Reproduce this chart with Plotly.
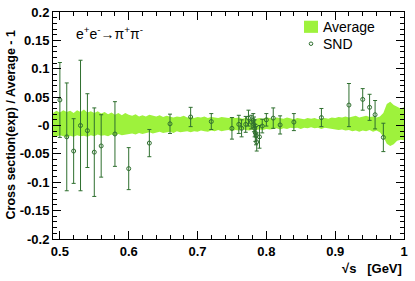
import plotly.graph_objects as go

# ---- data -------------------------------------------------------------
band_x = [0.490, 0.495, 0.500, 0.505, 0.510, 0.515, 0.520, 0.525, 0.530, 0.535,
          0.540, 0.545, 0.550, 0.555, 0.560, 0.565, 0.570, 0.575, 0.580, 0.585,
          0.590, 0.595, 0.600, 0.605, 0.610, 0.615, 0.620, 0.625, 0.630, 0.635,
          0.640, 0.645, 0.650, 0.655, 0.660, 0.665, 0.670, 0.675, 0.680, 0.685,
          0.690, 0.695, 0.700, 0.705, 0.710, 0.715, 0.720, 0.725, 0.730, 0.735,
          0.740, 0.745, 0.750, 0.755, 0.760, 0.765, 0.770, 0.775, 0.780, 0.785,
          0.790, 0.795, 0.800, 0.805, 0.810, 0.815, 0.820, 0.825, 0.830, 0.835,
          0.840, 0.845, 0.850, 0.855, 0.860, 0.865, 0.870, 0.875, 0.880, 0.885,
          0.890, 0.895, 0.900, 0.905, 0.910, 0.915, 0.920, 0.925, 0.930, 0.935,
          0.940, 0.945, 0.950, 0.955, 0.960, 0.965, 0.970, 0.975, 0.980, 0.985,
          0.990, 0.995, 1.000]
band_hi = [0.022, 0.026, 0.023, 0.027, 0.024, 0.026, 0.022, 0.027, 0.024, 0.028,
           0.023, 0.025, 0.022, 0.025, 0.021, 0.024, 0.020, 0.023, 0.019, 0.022,
           0.018, 0.022, 0.019, 0.017, 0.020, 0.016, 0.018, 0.016, 0.019, 0.017,
           0.016, 0.018, 0.015, 0.017, 0.016, 0.014, 0.016, 0.015, 0.017, 0.014,
           0.015, 0.013, 0.015, 0.014, 0.016, 0.013, 0.015, 0.014, 0.013, 0.015,
           0.014, 0.013, 0.015, 0.013, 0.014, 0.012, 0.013, 0.012, 0.011, 0.012,
           0.013, 0.012, 0.014, 0.013, 0.012, 0.014, 0.013, 0.012, 0.014, 0.012,
           0.011, 0.013, 0.012, 0.011, 0.013, 0.012, 0.013, 0.011, 0.012, 0.013,
           0.012, 0.014, 0.013, 0.015, 0.014, 0.016, 0.014, 0.015, 0.017, 0.014,
           0.015, 0.017, 0.015, 0.016, 0.014, 0.016, 0.022, 0.038, 0.042, 0.036,
           0.033, 0.030, 0.032]
band_lo = [-0.018, -0.020, -0.017, -0.019, -0.021, -0.018, -0.020, -0.017, -0.019, -0.018,
           -0.020, -0.017, -0.019, -0.016, -0.018, -0.017, -0.019, -0.016, -0.018, -0.015,
           -0.017, -0.016, -0.015, -0.014, -0.016, -0.013, -0.015, -0.014, -0.012, -0.014,
           -0.013, -0.011, -0.013, -0.012, -0.011, -0.013, -0.010, -0.012, -0.011, -0.010,
           -0.012, -0.010, -0.011, -0.009, -0.010, -0.011, -0.009, -0.010, -0.008, -0.010,
           -0.009, -0.008, -0.010, -0.008, -0.009, -0.007, -0.008, -0.009, -0.007, -0.008,
           -0.007, -0.008, -0.006, -0.007, -0.006, -0.005, -0.007, -0.005, -0.006, -0.004,
           -0.005, -0.004, -0.006, -0.004, -0.005, -0.003, -0.005, -0.004, -0.006, -0.004,
           -0.005, -0.006, -0.007, -0.008, -0.007, -0.009, -0.008, -0.010, -0.009, -0.011,
           -0.009, -0.010, -0.008, -0.011, -0.009, -0.012, -0.020, -0.032, -0.036, -0.033,
           -0.027, -0.025, -0.026]

snd_x = [0.500, 0.510, 0.520, 0.530, 0.540, 0.550, 0.560, 0.580, 0.600, 0.630,
         0.660, 0.690, 0.720, 0.750, 0.760, 0.764, 0.770, 0.774, 0.778, 0.781,
         0.782, 0.783, 0.784, 0.785, 0.786, 0.790, 0.794, 0.800, 0.810, 0.820,
         0.840, 0.880, 0.920, 0.940, 0.950, 0.958, 0.970]
snd_y = [0.045, -0.020, -0.045, 0.000, -0.009, -0.047, -0.036, -0.015, -0.076, -0.031,
         0.003, 0.015, 0.007, -0.005, 0.002, -0.005, 0.002, 0.013, 0.006, 0.009,
         0.002, -0.005, -0.013, -0.018, -0.029, -0.020, -0.001, 0.010, 0.013, 0.001,
         0.006, 0.014, 0.036, 0.046, 0.032, 0.019, -0.021]
snd_err = [0.066, 0.095, 0.057, 0.115, 0.065, 0.078, 0.055, 0.057, 0.037, 0.024,
           0.017, 0.017, 0.014, 0.019, 0.016, 0.015, 0.014, 0.014, 0.012, 0.012,
           0.013, 0.015, 0.015, 0.016, 0.016, 0.020, 0.012, 0.011, 0.018, 0.016,
           0.015, 0.016, 0.038, 0.019, 0.023, 0.025, 0.025]

y_ticks = [0.2, 0.15, 0.1, 0.05, 0.0, -0.05, -0.1, -0.15, -0.2]
y_ticktext = ["0.2", "0.15", "0.1", "0.05", "-0", "-0.05", "-0.1", "-0.15", "-0.2"]
x_ticks = [0.5, 0.6, 0.7, 0.8, 0.9, 1.0]
x_ticktext = ["0.5", "0.6", "0.7", "0.8", "0.9", "1"]

BAND = "#9ef23c"
PT = "#2f6f2f"
FONT = "Liberation Sans"

fig = go.Figure()

# band: upper then lower reversed
fig.add_trace(go.Scatter(
    x=band_x + band_x[::-1],
    y=band_hi + band_lo[::-1],
    fill="toself", fillcolor=BAND, line=dict(width=0, color=BAND),
    mode="lines", hoverinfo="skip", showlegend=False))

fig.add_trace(go.Scatter(
    x=snd_x, y=snd_y, mode="markers",
    marker=dict(symbol="circle-open", size=4, color=PT, line=dict(width=1, color=PT)),
    error_y=dict(type="data", array=snd_err, visible=True, color=PT, thickness=1, width=2),
    showlegend=False))

L, R, T, B = 53, 11, 5, 42
W, H = 415, 281
pw, ph = W - L - R, H - T - B

def px(x):
    return (x - L) / pw

def py(y):
    return (H - B - y) / ph

axis_common = dict(showline=True, linecolor="black", linewidth=1, mirror="ticks",
                   ticks="inside", tickcolor="black", ticklen=8, tickwidth=1,
                   showgrid=False, zeroline=False, ticklabeloverflow="allow",
                   tickfont=dict(family=FONT, size=13, color="black", weight="bold"))

fig.update_layout(
    width=W, height=H,
    margin=dict(l=L, r=R, t=T, b=B),
    paper_bgcolor="white", plot_bgcolor="white",
    showlegend=False,
    xaxis=dict(range=[0.49, 1.0], tickvals=x_ticks, ticktext=x_ticktext,
               minor=dict(tick0=0.5, dtick=0.02, ticks="inside", ticklen=4, tickcolor="black"),
               **axis_common),
    yaxis=dict(range=[-0.2, 0.2], tickvals=y_ticks, ticktext=y_ticktext,
               minor=dict(tick0=0, dtick=0.01, ticks="inside", ticklen=4, tickcolor="black"),
               **axis_common),
    shapes=[
        dict(type="rect", xref="paper", yref="paper",
             x0=px(304), x1=px(318), y0=py(26.5), y1=py(14),
             fillcolor=BAND, line=dict(width=0)),
        dict(type="circle", xref="paper", yref="paper",
             x0=px(309.2), x1=px(312.8), y0=py(39.5), y1=py(35.9),
             line=dict(width=1, color=PT)),
    ],
    annotations=[
        dict(text="Cross section(exp) / Average - 1", xref="paper", yref="paper",
             x=px(10), y=py(122), textangle=-90, showarrow=False,
             xanchor="center", yanchor="middle",
             font=dict(family=FONT, size=12.5, color="black", weight="bold")),
        dict(text="√s   [GeV]", xref="paper", yref="paper",
             x=px(404), y=py(269), showarrow=False, xanchor="right", yanchor="middle",
             font=dict(family=FONT, size=13, color="black", weight="bold")),
        dict(text="e<sup>+</sup>e<sup>-</sup>→π<sup>+</sup>π<sup>-</sup>", xref="paper", yref="paper",
             x=px(74), y=py(27), showarrow=False, xanchor="left", yanchor="middle",
             font=dict(family=FONT, size=14, color="black")),
        dict(text="Average", xref="paper", yref="paper",
             x=px(321), y=py(20.5), showarrow=False, xanchor="left", yanchor="middle",
             font=dict(family=FONT, size=14, color="black")),
        dict(text="SND", xref="paper", yref="paper",
             x=px(321), y=py(37.7), showarrow=False, xanchor="left", yanchor="middle",
             font=dict(family=FONT, size=14, color="black")),
    ],
)

fig.write_html("out.html", config={"displayModeBar": False},
               post_script="document.body.style.margin='0';document.body.style.overflow='hidden';")
